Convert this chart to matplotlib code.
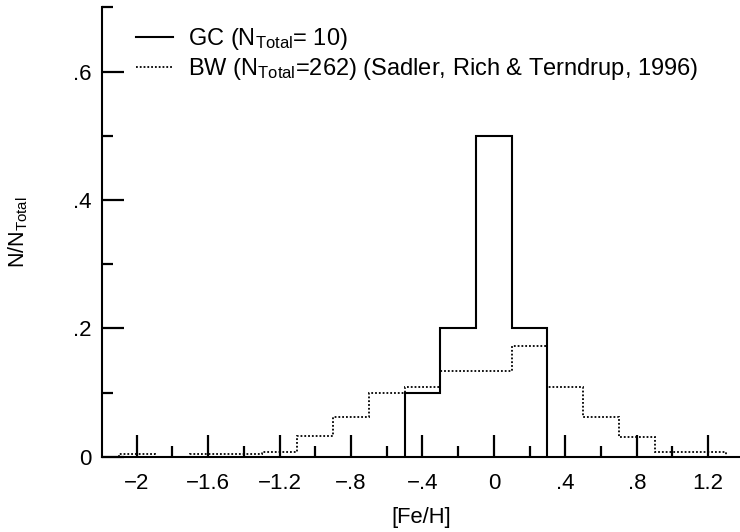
import matplotlib
matplotlib.use("Agg")
import matplotlib.pyplot as plt
from matplotlib.ticker import FixedLocator, FixedFormatter, MultipleLocator

plt.rcParams['font.family'] = ['Liberation Sans', 'DejaVu Sans']
plt.rcParams['mathtext.fontset'] = 'custom'
plt.rcParams['mathtext.rm'] = 'Liberation Sans'
plt.rcParams['mathtext.it'] = 'Liberation Sans:italic'
plt.rcParams['mathtext.bf'] = 'Liberation Sans:bold'

# GC histogram (fraction of 10 clusters)
gc_edges = [-0.5, -0.3, -0.1, 0.1, 0.3]
gc_values = [0.1, 0.2, 0.5, 0.2]

# Baade's Window histogram (fraction of 262 stars)
bw_edges = [-2.1, -1.9, -1.7, -1.5, -1.3, -1.1, -0.9, -0.7, -0.5, -0.3,
            -0.1, 0.1, 0.3, 0.5, 0.7, 0.9, 1.1, 1.3]
bw_values = [0.0038, 0.0, 0.0038, 0.0038, 0.0076, 0.0321, 0.0618, 0.1000,
             0.1088, 0.1336, 0.1336, 0.1718, 0.1088, 0.0611, 0.0305,
             0.0076, 0.0076]

x_major = [-2.0, -1.6, -1.2, -0.8, -0.4, 0.0, 0.4, 0.8, 1.2]
x_labels = ['\u22122', '\u22121.6', '\u22121.2', '\u2212.8', '\u2212.4', '0', '.4', '.8', '1.2']
y_major = [0.0, 0.2, 0.4, 0.6]
y_labels = ['0', '.2', '.4', '.6']

fig = plt.figure(figsize=(7.4, 5.32), dpi=100)
ax = fig.add_axes([0.1374, 0.1415, 0.8626, 0.8447])

ax.stairs(gc_values, gc_edges, baseline=0, fill=False, color='black',
          linewidth=1.5, label=r'GC (N$_{\rm Total}$= 10)')
ax.stairs(bw_values, bw_edges, baseline=0, fill=False, color='black',
          linewidth=1.3, linestyle=(0, (1, 1.1)),
          label=r'BW (N$_{\rm Total}$=262) (Sadler, Rich & Terndrup, 1996)')

ax.set_xlim(-2.196, 1.378)
ax.set_ylim(0, 0.7)

for s in ['top', 'right']:
    ax.spines[s].set_visible(False)
for s in ['left', 'bottom']:
    ax.spines[s].set_linewidth(1.5)

ax.xaxis.set_major_locator(FixedLocator(x_major))
ax.xaxis.set_major_formatter(FixedFormatter(x_labels))
ax.xaxis.set_minor_locator(MultipleLocator(0.2))
ax.yaxis.set_major_locator(FixedLocator(y_major))
ax.yaxis.set_major_formatter(FixedFormatter(y_labels))
ax.yaxis.set_minor_locator(MultipleLocator(0.1))

ax.tick_params(which='major', direction='in', length=15.8, width=1.6,
               labelsize=16, pad=7)
ax.tick_params(which='minor', direction='in', length=7.9, width=1.6)
ax.tick_params(axis='x', which='major', pad=11.5)

ax.set_xlabel('[Fe/H]', fontsize=15.8, labelpad=9.5)
ax.set_ylabel(r'N/N$_{\rm Total}$', fontsize=15.5)
ax.yaxis.set_label_coords(-0.112, 0.5)

leg = ax.legend(loc='upper left', bbox_to_anchor=(0.0537, 0.958),
                frameon=False, fontsize=17, handlelength=1.55,
                handletextpad=0.64, borderpad=0, borderaxespad=0,
                labelspacing=0.17)

fig.savefig('out.png', dpi=100)
